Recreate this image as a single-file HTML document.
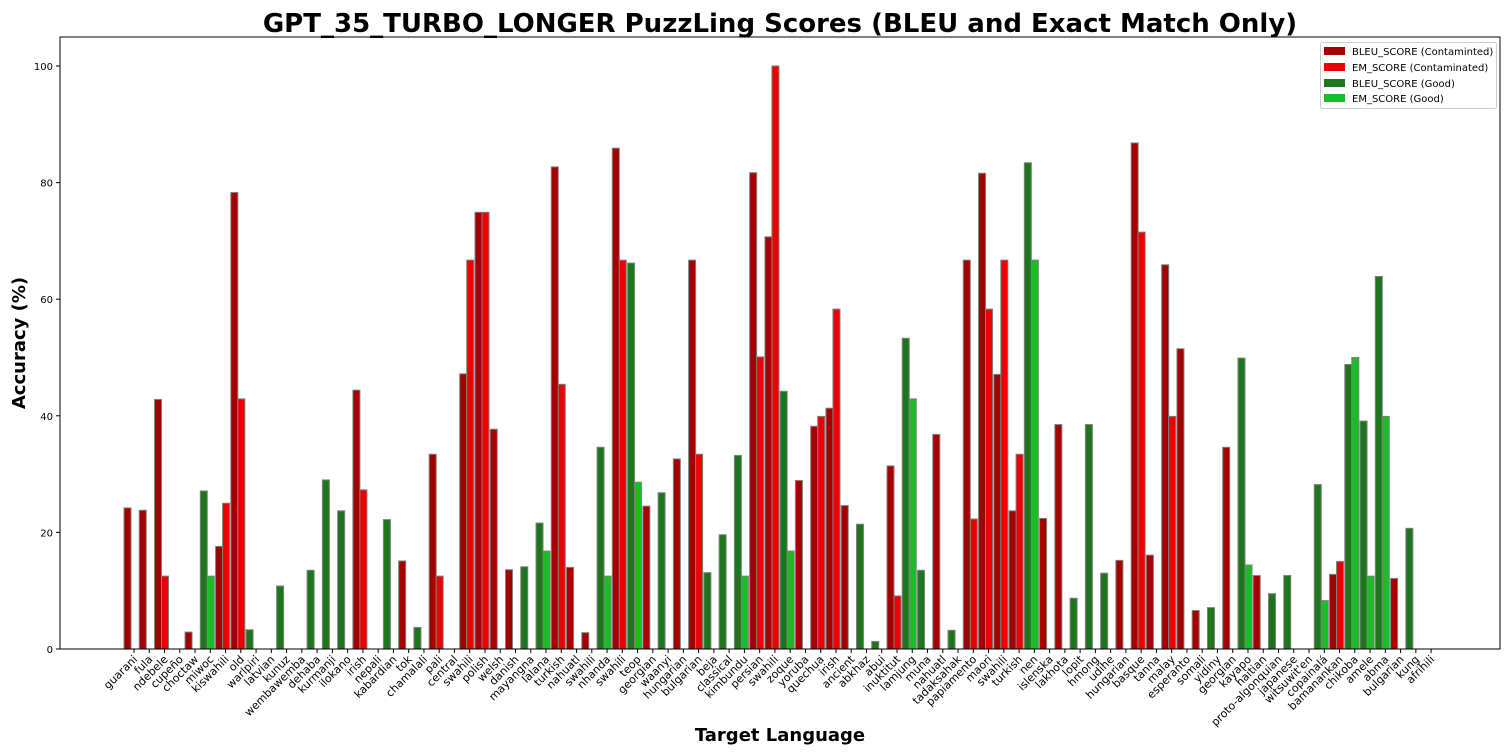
<!DOCTYPE html>
<html><head><meta charset="utf-8"><style>
html,body{margin:0;padding:0;background:#fff;}
svg{display:block;font-family:"DejaVu Sans","Liberation Sans",sans-serif;}
</style></head><body>
<svg id="chart" width="1512" height="756" viewBox="0 0 1512 756">
<text x="780" y="32" text-anchor="middle" font-size="26" font-weight="bold">GPT_35_TURBO_LONGER PuzzLing Scores (BLEU and Exact Match Only)</text>
<text transform="translate(25,343) rotate(-90)" text-anchor="middle" font-size="18" font-weight="bold">Accuracy (%)</text>
<text x="780" y="741" text-anchor="middle" font-size="18" font-weight="bold">Target Language</text>
<g id="bars"></g>
<g id="yaxis"></g>
<g id="xaxis"></g>
<rect x="60" y="37" width="1440" height="612" fill="none" stroke="#000" stroke-width="1"/>
<g>
<rect x="1320.5" y="42.5" width="176" height="66" rx="2" fill="#fff" stroke="#ccc"/>
<g><rect x="1324" y="47" width="21" height="8" fill="#a50000"/><text x="1352" y="55" font-size="10">BLEU_SCORE (Contaminted)</text></g>
<g><rect x="1324" y="63" width="21" height="8" fill="#ee0000"/><text x="1352" y="71" font-size="10">EM_SCORE (Contaminated)</text></g>
<g><rect x="1324" y="79" width="21" height="8" fill="#1c761c"/><text x="1352" y="87" font-size="10">BLEU_SCORE (Good)</text></g>
<g><rect x="1324" y="94" width="21" height="8" fill="#1cbc27"/><text x="1352" y="102" font-size="10">EM_SCORE (Good)</text></g>
</g>
</svg>
<script>
const categories = ["guarani","fula","ndebele","cupeño","choctaw","miwoc","kiswahili","old","warlpiri","latvian","kunuz","wembawemba","dehaba","kurmanji","ilokano","irish","nepali","kabardian","tok","chamalali","pali","central","swahili","polish","welsh","danish","mayangna","lalana","turkish","nahuatl","swahili","nhanda","swahili","teop","georgian","waanyi","hungarian","bulgarian","beja","classical","kimbundu","persian","swahili","zoque","yoruba","quechua","irish","ancient","abkhaz","abui","inuktitut","lamjung","muna","nahuatl","tadaksahak","papiamento","maori","swahili","turkish","nen","islenska","lakhota","lopit","hmong","udihe","hungarian","basque","tanna","malay","esperanto","somali","yidiny","georgian","kayapo","haitian","proto-algonquian","japanese","witsuwit'en","copainalá","bamanankan","chikoba","amele","abma","bulgarian","kung","afrihili"];
const bleuScores = [24.2,23.8,42.8,0,2.9,27.1,17.6,78.3,3.3,0,10.8,0,13.5,29,23.7,44.4,0,22.2,15.1,3.7,33.4,0,47.2,74.9,37.7,13.6,14.1,21.6,82.7,14.0,2.8,34.6,85.9,66.2,24.5,26.8,32.6,66.7,13.1,19.6,33.2,81.7,70.7,44.2,28.9,38.2,41.3,24.6,21.4,1.3,31.4,53.3,13.5,36.8,3.2,66.7,81.6,47.1,23.7,83.4,22.4,38.5,8.7,38.5,13.0,15.2,86.8,16.1,65.9,51.5,6.6,7.1,34.6,49.9,12.6,9.5,12.6,0,28.2,12.8,48.8,39.1,63.9,12.1,20.7,0];
const emScores = [0,0,12.5,0,0,12.5,25,42.9,0,0,0,0,0,0,0,27.3,0,0,0,0,12.5,0,66.7,74.9,0,0,0,16.8,45.4,0,0,12.5,66.7,28.6,0,0,0,33.4,0,0,12.5,50.1,100,16.8,0,39.9,58.3,0,0,0,9.1,42.9,0,0,0,22.3,58.3,66.7,33.4,66.7,0,0,0,0,0,0,71.5,0,39.9,0,0,0,0,14.4,0,0,0,0,8.3,15.0,50.0,12.5,39.9,0,0,0];
const groups = "CCCCCGCCGGGGGGGCGGCGCCCCCCGGCCCGCGCGCCGGGCCGCCCCGGCGGCGCCCCGCCGGGCCCCCCGCGCGGGGCGGGCGG";
const yTicks = [0,20,40,60,80,100];

const NS = "http://www.w3.org/2000/svg";
const x0 = 134, step = 15.26, bw = 7;
function xPos(i){ return x0 + i*step; }
function yPos(v){ return 649 - v*5.83; }
const colors = {C:["#a50000","#ee0000"], G:["#1c761c","#1cbc27"]};

const bars = document.getElementById('bars');
categories.forEach((c,i)=>{
  const g = groups[i] || "C";
  [[bleuScores[i],-10,0,'bleu'],[emScores[i],-3,1,'em']].forEach(([v,off,ci,kind])=>{
    if(!(v>0)) return;
    const r = document.createElementNS(NS,'rect');
    r.setAttribute('x', xPos(i)+off);
    r.setAttribute('y', yPos(v));
    r.setAttribute('width', bw);
    r.setAttribute('height', 649 - yPos(v));
    r.setAttribute('fill', colors[g][ci]);
    r.setAttribute('stroke', '#808080');
    r.setAttribute('stroke-width', '1');
    
    
    bars.appendChild(r);
  });
});

const ya = document.getElementById('yaxis');
yTicks.forEach(t=>{
  const l = document.createElementNS(NS,'line');
  l.setAttribute('x1',56); l.setAttribute('x2',60);
  l.setAttribute('y1',yPos(t)); l.setAttribute('y2',yPos(t));
  l.setAttribute('stroke','#000');
  
  
  ya.appendChild(l);
  const tx = document.createElementNS(NS,'text');
  tx.setAttribute('x',53); tx.setAttribute('y',yPos(t)+4);
  tx.setAttribute('text-anchor','end'); tx.setAttribute('font-size','10');
  tx.textContent = t;
  
  
  ya.appendChild(tx);
});

const xa = document.getElementById('xaxis');
categories.forEach((c,i)=>{
  const x = xPos(i);
  const l = document.createElementNS(NS,'line');
  l.setAttribute('x1',x); l.setAttribute('x2',x);
  l.setAttribute('y1',649); l.setAttribute('y2',653);
  l.setAttribute('stroke','#000');
  
  
  xa.appendChild(l);
  const tx = document.createElementNS(NS,'text');
  tx.setAttribute('transform','translate('+(x+4)+',660) rotate(-45)');
  tx.setAttribute('text-anchor','end'); tx.setAttribute('font-size','11');
  tx.textContent = c;
  
  
  xa.appendChild(tx);
});
</script>
</body></html>
